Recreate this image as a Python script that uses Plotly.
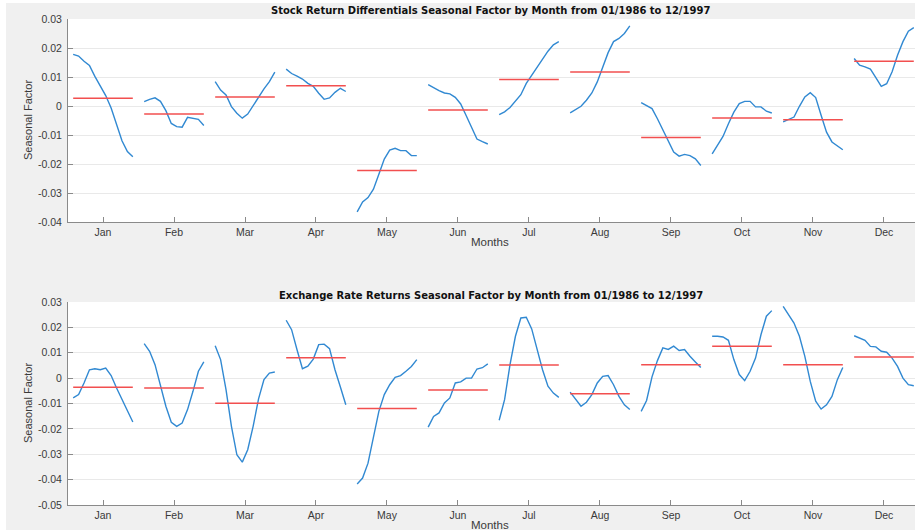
import numpy as np
import plotly.graph_objects as go

# Seasonal subseries: one value per year (1986-1997) for each calendar month
years = list(range(1986, 1998))
months = ["Jan", "Feb", "Mar", "Apr", "May", "Jun",
          "Jul", "Aug", "Sep", "Oct", "Nov", "Dec"]

# Stock return differentials - seasonal factor per month, by year
stock_jan = [0.0178, 0.0172, 0.0154, 0.0140, 0.0102, 0.0067, 0.0036, -0.0007, -0.0065, -0.0120, -0.0157, -0.0175]
stock_feb = [0.0015, 0.0023, 0.0028, 0.0016, -0.0016, -0.0060, -0.0071, -0.0073, -0.0039, -0.0042, -0.0046, -0.0067]
stock_mar = [0.0084, 0.0055, 0.0038, -0.0002, -0.0025, -0.0042, -0.0028, 0.0001, 0.0032, 0.0059, 0.0084, 0.0117]
stock_apr = [0.0127, 0.0112, 0.0103, 0.0093, 0.0078, 0.0068, 0.0044, 0.0023, 0.0028, 0.0047, 0.0061, 0.0050]
stock_may = [-0.0365, -0.0331, -0.0316, -0.0287, -0.0235, -0.0183, -0.0152, -0.0146, -0.0154, -0.0154, -0.0171, -0.0171]
stock_jun = [0.0074, 0.0062, 0.0053, 0.0045, 0.0042, 0.0030, 0.0007, -0.0033, -0.0074, -0.0114, -0.0123, -0.0131]
stock_jul = [-0.0030, -0.0020, -0.0005, 0.0016, 0.0039, 0.0078, 0.0105, 0.0134, 0.0160, 0.0189, 0.0211, 0.0222]
stock_aug = [-0.0024, -0.0013, -0.0001, 0.0020, 0.0045, 0.0083, 0.0135, 0.0184, 0.0222, 0.0233, 0.0250, 0.0276]
stock_sep = [0.0012, 0.0002, -0.0009, -0.0044, -0.0084, -0.0124, -0.0159, -0.0173, -0.0167, -0.0171, -0.0182, -0.0205]
stock_oct = [-0.0165, -0.0136, -0.0105, -0.0061, -0.0021, 0.0008, 0.0016, 0.0016, -0.0003, -0.0003, -0.0018, -0.0024]
stock_nov = [-0.0055, -0.0047, -0.0038, -0.0001, 0.0031, 0.0046, 0.0029, -0.0032, -0.0090, -0.0124, -0.0139, -0.0151]
stock_dec = [0.0164, 0.0141, 0.0135, 0.0127, 0.0098, 0.0068, 0.0077, 0.0118, 0.0175, 0.0222, 0.0258, 0.0270]

# Exchange rate returns - seasonal factor per month, by year
fx_jan = [-0.0078, -0.0065, -0.0019, 0.0033, 0.0037, 0.0033, 0.0040, 0.0010, -0.0039, -0.0085, -0.0124, -0.0173]
fx_feb = [0.0136, 0.0106, 0.0053, -0.0026, -0.0111, -0.0174, -0.0190, -0.0177, -0.0124, -0.0052, 0.0027, 0.0064]
fx_mar = [0.0128, 0.0073, -0.0045, -0.0190, -0.0302, -0.0331, -0.0282, -0.0190, -0.0082, -0.0006, 0.0020, 0.0024]
fx_apr = [0.0228, 0.0191, 0.0112, 0.0037, 0.0047, 0.0075, 0.0132, 0.0134, 0.0116, 0.0033, -0.0035, -0.0105]
fx_may = [-0.0417, -0.0394, -0.0335, -0.0230, -0.0131, -0.0065, -0.0026, 0.0003, 0.0010, 0.0027, 0.0046, 0.0073]
fx_jun = [-0.0193, -0.0151, -0.0137, -0.0098, -0.0078, -0.0019, -0.0015, 0.0000, 0.0000, 0.0036, 0.0041, 0.0056]
fx_jul = [-0.0166, -0.0085, 0.0053, 0.0165, 0.0237, 0.0240, 0.0194, 0.0112, 0.0033, -0.0032, -0.0059, -0.0076]
fx_aug = [-0.0055, -0.0085, -0.0111, -0.0095, -0.0065, -0.0019, 0.0007, 0.0010, -0.0026, -0.0072, -0.0105, -0.0124]
fx_sep = [-0.0131, -0.0088, 0.0005, 0.0069, 0.0119, 0.0113, 0.0126, 0.0109, 0.0113, 0.0086, 0.0064, 0.0042]
fx_oct = [0.0165, 0.0165, 0.0162, 0.0149, 0.0073, 0.0014, -0.0010, 0.0027, 0.0079, 0.0171, 0.0244, 0.0266]
fx_nov = [0.0283, 0.0250, 0.0217, 0.0165, 0.0086, -0.0013, -0.0091, -0.0122, -0.0105, -0.0072, -0.0006, 0.0042]
fx_dec = [0.0167, 0.0158, 0.0149, 0.0125, 0.0123, 0.0106, 0.0102, 0.0079, 0.0046, 0.0000, -0.0026, -0.0030]

stock_by_month = [stock_jan, stock_feb, stock_mar, stock_apr, stock_may, stock_jun,
                  stock_jul, stock_aug, stock_sep, stock_oct, stock_nov, stock_dec]
fx_by_month = [fx_jan, fx_feb, fx_mar, fx_apr, fx_may, fx_jun,
               fx_jul, fx_aug, fx_sep, fx_oct, fx_nov, fx_dec]

stock_ticks = [0.03, 0.02, 0.01, 0, -0.01, -0.02, -0.03, -0.04]
stock_tick_text = ["0.03", "0.02", "0.01", "0", "-0.01", "-0.02", "-0.03", "-0.04"]
fx_ticks = [0.03, 0.02, 0.01, 0, -0.01, -0.02, -0.03, -0.04, -0.05]
fx_tick_text = ["0.03", "0.02", "0.01", "0", "-0.01", "-0.02", "-0.03", "-0.04", "-0.05"]

W, H = 915, 530
LINE_BLUE = "#3189d2"
MEAN_RED = "#f24f4f"
FONT = "Liberation Sans, Arial, Helvetica, sans-serif"
TITLE_FONT = "DejaVu Sans, Verdana, sans-serif"
NARROW = "Liberation Sans Narrow, Arial Narrow, Liberation Sans, sans-serif"
TXT = "#3a3a3a"

half = 0.42
spread = np.linspace(-half, half, len(years))

fig = go.Figure()


def add_panel(series, xa, ya):
    for m, vals in enumerate(series, start=1):
        vals = np.asarray(vals)
        fig.add_trace(go.Scatter(
            x=m + spread, y=vals, mode="lines",
            line=dict(color=LINE_BLUE, width=1.4),
            xaxis=xa, yaxis=ya, showlegend=False,
            customdata=years, hovertemplate="%{customdata}: %{y:.4f}<extra></extra>"))
        mu = float(vals.mean())
        fig.add_trace(go.Scatter(
            x=[m - half, m + half], y=[mu, mu], mode="lines",
            line=dict(color=MEAN_RED, width=1.5),
            xaxis=xa, yaxis=ya, showlegend=False, hoverinfo="skip"))


add_panel(stock_by_month, "x", "y")
add_panel(fx_by_month, "x2", "y2")

x_left = 68 / W
common_x = dict(
    domain=[x_left, 1], range=[0.507, 12.437],
    tickmode="array", tickvals=list(range(1, 13)), ticktext=months,
    ticks="inside", ticklen=5, tickcolor="#8a8a8a", tickwidth=1,
    showline=True, linecolor="#8a8a8a", linewidth=1,
    showgrid=False, zeroline=False, automargin=False,
    tickfont=dict(family=FONT, size=10.5, color=TXT),
)
common_y = dict(
    tickmode="array", ticks="inside", ticklen=5, tickcolor="#8a8a8a", tickwidth=1,
    showline=True, linecolor="#8a8a8a", linewidth=1,
    showgrid=True, gridcolor="#e9e9e9", gridwidth=1,
    zeroline=False, automargin=False, ticklabelstandoff=3,
    tickfont=dict(family=FONT, size=10.5, color=TXT),
)

fig.update_layout(
    width=W, height=H,
    margin=dict(l=0, r=0, t=0, b=0),
    paper_bgcolor="#f0f0f0", plot_bgcolor="#ffffff",
    xaxis=dict(common_x, anchor="y"),
    yaxis=dict(common_y, anchor="x", domain=[1 - 222 / H, 1 - 19 / H],
               range=[-0.04, 0.03], tickvals=stock_ticks, ticktext=stock_tick_text),
    xaxis2=dict(common_x, anchor="y2"),
    yaxis2=dict(common_y, anchor="x2", domain=[1 - 505 / H, 1 - 302 / H],
                range=[-0.05, 0.03], tickvals=fx_ticks, ticktext=fx_tick_text),
    hovermode="closest",
)


def label(text, x, y, size=10, bold=False, angle=0, color=TXT, family=FONT):
    fig.add_annotation(
        text=f"<b>{text}</b>" if bold else text,
        xref="paper", yref="paper", x=x / W, y=1 - y / H,
        xanchor="center", yanchor="middle", showarrow=False, textangle=angle,
        font=dict(family=family, size=size, color=color))


label("Stock Return Differentials Seasonal Factor by Month from 01/1986 to 12/1997",
      490, 11, size=10, bold=True, color="#111111", family=TITLE_FONT)
label("Exchange Rate Returns Seasonal Factor by Month from 01/1986 to 12/1997",
      491, 295, size=10, bold=True, color="#111111", family=TITLE_FONT)
label("Months", 490, 242, size=11.5)
label("Months", 490, 525, size=11.5)
label("Seasonal Factor", 28, 120, size=11, angle=-90, family=NARROW)
label("Seasonal Factor", 28, 403, size=11, angle=-90, family=NARROW)

# thin white border along the top and left edges of the canvas
fig.add_shape(type="rect", xref="paper", yref="paper", x0=0, x1=6 / W, y0=0, y1=1,
              fillcolor="#ffffff", line=dict(width=0), layer="below")
fig.add_shape(type="rect", xref="paper", yref="paper", x0=0, x1=1, y0=1 - 3 / H, y1=1,
              fillcolor="#ffffff", line=dict(width=0), layer="below")

fig.write_html("out.html")
